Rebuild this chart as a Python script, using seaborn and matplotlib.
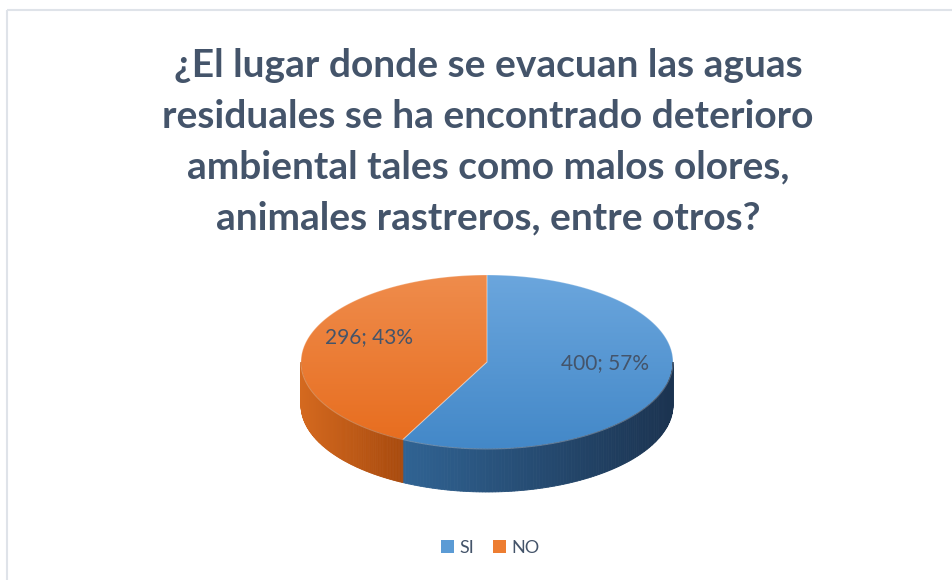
import numpy as np
import matplotlib.pyplot as plt
import seaborn as sns
from matplotlib.patches import Polygon, Rectangle, Patch
from matplotlib.colors import to_rgb

# Datos
categorias = ["SI", "NO"]
valores = [400, 296]
titulo = ("¿El lugar donde se evacuan las aguas\n"
          "residuales se ha encontrado deterioro\n"
          "ambiental tales como malos olores,\n"
          "animales rastreros, entre otros?")

# Colores (cara superior: claro -> oscuro ; lateral: izquierda -> derecha)
sup_cols = [("#6ba6dd", "#4388c8"), ("#ef8c4c", "#e76c1d")]
lat_cols = [("#306393", "#1b3350"), ("#d4691f", "#a84a0d")]
leg_cols = ["#5b9bd5", "#ed7d31"]

sns.set_style("white")
plt.rcParams["font.family"] = ["Lato", "DejaVu Sans"]

fig = plt.figure(figsize=(9.52, 5.8), dpi=100)
ax = fig.add_axes([0, 0, 1, 1])

# Geometria del pastel 3D (en pixeles)
cx, cy, a, b, prof = 487, 362, 186, 87, 43

total = sum(valores)
fracs = np.array(valores) / total
lim = np.concatenate([[0], np.cumsum(fracs) * 360])


def punto(t, dy=0.0):
    r = np.deg2rad(t)
    return cx + a * np.sin(r), cy - b * np.cos(r) + dy


def mezcla(c1, c2, f):
    c1, c2 = np.array(to_rgb(c1)), np.array(to_rgb(c2))
    return tuple(c1 + (c2 - c1) * f)


# Caras laterales (solo la mitad frontal: 90..270 grados)
for i in range(len(valores)):
    t0, t1 = max(lim[i], 90), min(lim[i + 1], 270)
    if t1 <= t0:
        continue
    ts = np.linspace(t0, t1, 120)
    xs = [punto(t)[0] for t in ts]
    xmin, xmax = min(xs), max(xs)
    for k in range(len(ts) - 1):
        p1, p2 = punto(ts[k]), punto(ts[k + 1])
        q2, q1 = punto(ts[k + 1], prof), punto(ts[k], prof)
        f = (0.5 * (p1[0] + p2[0]) - xmin) / max(xmax - xmin, 1)
        col = mezcla(lat_cols[i][0], lat_cols[i][1], f)
        ax.add_patch(Polygon([p1, p2, q2, q1], closed=True, facecolor=col,
                             edgecolor=col, linewidth=0.6))

# Caras superiores con degradado vertical
for i in range(len(valores)):
    ts = np.linspace(lim[i], lim[i + 1], 200)
    pts = [(cx, cy)] + [punto(t) for t in ts]
    poly = Polygon(pts, closed=True, facecolor="none", edgecolor="none")
    ax.add_patch(poly)
    c_top = np.array(to_rgb(sup_cols[i][0]))
    c_bot = np.array(to_rgb(sup_cols[i][1]))
    g = np.linspace(0, 1, 256)[:, None, None]
    img = c_top + (c_bot - c_top) * g
    img = np.repeat(img, 2, axis=1)
    im = ax.imshow(img, extent=(cx - a, cx + a, cy + b, cy - b),
                   origin="upper", aspect="auto", interpolation="bilinear")
    im.set_clip_path(poly)
    # borde suave
    ax.add_patch(Polygon(pts, closed=True, facecolor="none",
                         edgecolor=(1, 1, 1, 0.25), linewidth=0.8))

# Etiquetas de datos
for i in range(len(valores)):
    tm = (lim[i] + lim[i + 1]) / 2
    r = np.deg2rad(tm)
    x = cx + 0.65 * a * np.sin(r)
    y = cy - 0.65 * b * np.cos(r) - 12
    ax.text(x, y, f"{valores[i]}; {fracs[i] * 100:.0f}%", ha="center",
            va="center", fontsize=15, color="#44546a")

# Titulo
ax.text(488, 142, titulo, ha="center", va="center", fontsize=28,
        fontweight="bold", color="#44546a", linespacing=1.55)

# Borde del grafico
ax.add_patch(Rectangle((7, 10), 960, 600, facecolor="none",
                       edgecolor="#dfe3e9", linewidth=1.5))

# Leyenda
handles = [Patch(facecolor=leg_cols[i], edgecolor="none", label=categorias[i])
           for i in range(len(categorias))]
ax.legend(handles=handles, loc="center", bbox_to_anchor=(0.515, 0.055),
          ncol=2, frameon=False, fontsize=13, handlelength=0.75,
          handleheight=0.75, handletextpad=0.3, columnspacing=1.0,
          labelcolor="#44546a")

ax.set_xlim(0, 952)
ax.set_ylim(580, 0)
ax.axis("off")

fig.savefig("out.png", dpi=100)
